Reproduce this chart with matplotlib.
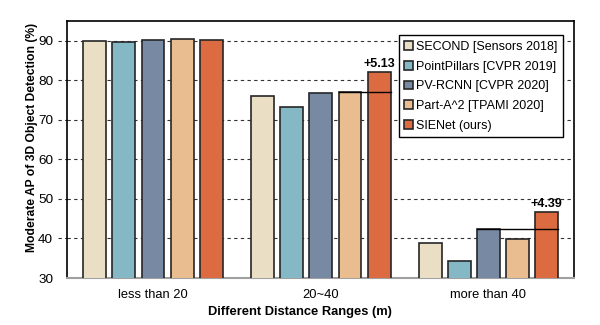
import matplotlib
matplotlib.use("Agg")
import matplotlib.pyplot as plt
import matplotlib.transforms as mtransforms
import numpy as np

plt.rcParams['font.family'] = ['Liberation Sans', 'DejaVu Sans']

categories = ["less than 20", "20~40", "more than 40"]
methods = ["SECOND [Sensors 2018]", "PointPillars [CVPR 2019]", "PV-RCNN [CVPR 2020]",
           "Part-A^2 [TPAMI 2020]", "SIENet (ours)"]
values = {
    "SECOND [Sensors 2018]": [90.0, 76.15, 38.9],
    "PointPillars [CVPR 2019]": [89.6, 73.2, 34.3],
    "PV-RCNN [CVPR 2020]": [90.2, 76.8, 42.3],
    "Part-A^2 [TPAMI 2020]": [90.4, 76.99, 39.9],
    "SIENet (ours)": [90.3, 82.12, 46.69],
}
colors = ["#EADFC5", "#83B8C4", "#7889A3", "#E9BD8F", "#DD6B42"]
yticks = [30, 40, 50, 60, 70, 80, 90]
gain_groups = [1, 2]
gain_labels = ["+5.13", "+4.39"]
gain_base_idx = [3, 2]

fig = plt.figure(figsize=(6, 3.25), dpi=100)
ax = fig.add_axes([0.1117, 0.1446, 0.845, 0.7904])

x = np.arange(len(categories))
pitch = 0.174
width = 0.136
for i, m in enumerate(methods):
    ax.bar(x + (i - 2) * pitch, values[m], width, color=colors[i], edgecolor="#262626",
           linewidth=1.2, label=m, zorder=3)

for g, lab, bi in zip(gain_groups, gain_labels, gain_base_idx):
    base = values[methods[bi]][g]
    top = values[methods[4]][g]
    x0 = x[g] + (bi - 2) * pitch - width / 2
    x1 = x[g] + 2 * pitch + width / 2
    ax.plot([x0, x1], [base, base], color="black", lw=1.0, zorder=4)
    ax.text(x[g] + 2 * pitch, top + 0.6, lab, ha="center", va="bottom",
            fontsize=9.0, fontweight="bold")

ax.set_ylim(30, 95)
ax.set_xlim(-0.513, 2.51)
ax.set_yticks(yticks)
ax.set_xticks(x)
ax.set_xticklabels(categories)
ax.tick_params(axis="y", length=0, labelsize=9.7, pad=10)
ax.tick_params(axis="x", length=0, labelsize=9.3, pad=8)
ax.yaxis.grid(True, linestyle=(0, (3, 3)), color="#333333", linewidth=0.8, zorder=0)
ax.set_axisbelow(True)

# short dashed extensions of the grid lines left of the y axis
trans = mtransforms.blended_transform_factory(ax.transAxes, ax.transData)
for yv in yticks[1:]:
    ax.plot([-0.018, 0], [yv, yv], transform=trans, clip_on=False,
            linestyle=(0, (3, 3)), color="#333333", linewidth=0.8)

for s in ["left", "top", "right"]:
    ax.spines[s].set_linewidth(1.2)
    ax.spines[s].set_color("black")
ax.spines["bottom"].set_color("#a0a0a0")
ax.spines["bottom"].set_linewidth(1.5)

ax.set_ylabel("Moderate AP of 3D Object Detection (%)", fontsize=8.7, fontweight="bold")
ax.yaxis.set_label_coords(-0.058, 0.547)
ax.set_xlabel("Different Distance Ranges (m)", fontsize=9.3, fontweight="bold")
ax.xaxis.set_label_coords(0.46, -0.11)

leg = ax.legend(loc="upper right", bbox_to_anchor=(0.986, 0.96), fontsize=9.0,
                handlelength=0.7, handleheight=0.7, handletextpad=0.25,
                borderaxespad=0.3, labelspacing=0.62, fancybox=False,
                edgecolor="black", framealpha=1, borderpad=0.45)
leg.get_frame().set_linewidth(1.0)

fig.savefig("out.png", dpi=100)
